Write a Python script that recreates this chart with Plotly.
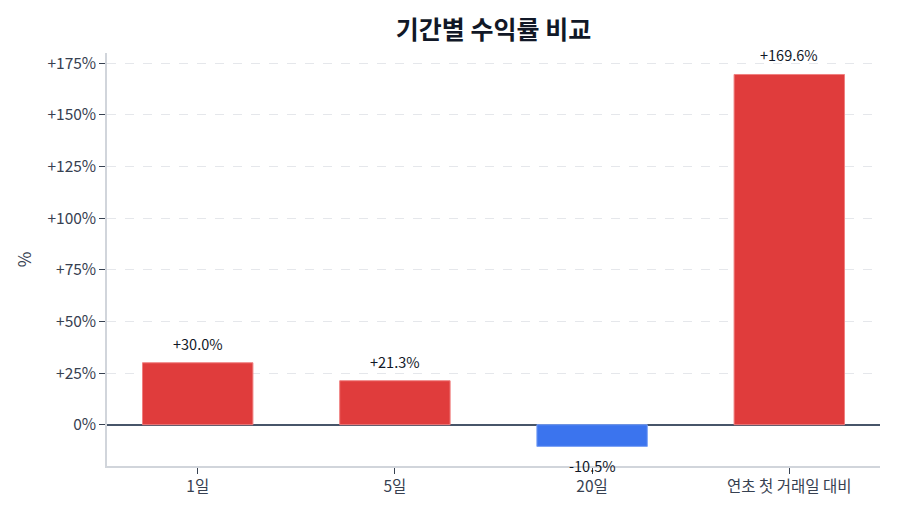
import plotly.graph_objects as go

# 기간별 수익률 (%)
periods = ['1일', '5일', '20일', '연초 첫 거래일 대비']
returns = [30.0, 21.3, -10.5, 169.6]

# y축 눈금
tick_vals = [0, 25, 50, 75, 100, 125, 150, 175]
tick_text = ['0%', '+25%', '+50%', '+75%', '+100%', '+125%', '+150%', '+175%']

FONT = 'Noto Sans CJK KR'
RED = '#e03c3c'
BLUE = '#3b74ee'

colors = [RED if v >= 0 else BLUE for v in returns]
line_colors = ['#f08080' if v >= 0 else '#7aa0f5' for v in returns]

fig = go.Figure(go.Bar(
    x=periods,
    y=returns,
    width=0.56,
    marker=dict(color=colors, line=dict(color=line_colors, width=1)),
    hoverinfo='skip',
))

# 막대 위/아래 값 라벨
for p, v in zip(periods, returns):
    fig.add_annotation(
        x=p, y=v,
        text=f'{v:+.1f}%',
        showarrow=False,
        yanchor='bottom' if v >= 0 else 'top',
        yshift=7 if v >= 0 else -7,
        font=dict(family=FONT, size=14.5, color='#111827'),
    )

# 페이지 기본 여백(8px)을 감안한 margin
fig.update_layout(
    width=900, height=514,
    margin=dict(l=99, r=28, t=45, b=56),
    paper_bgcolor='white',
    plot_bgcolor='white',
    font=dict(family=FONT, size=15, color='#374151'),
    title=dict(
        text='<b>기간별 수익률 비교</b>',
        xref='paper', x=0.5, xanchor='center', y=0.957, yanchor='middle',
        font=dict(family=FONT, size=25, color='#111827'),
    ),
    showlegend=False,
)

fig.update_xaxes(
    automargin=False,
    range=[-0.46, 3.46],
    showline=True, linecolor='#d1d5db', linewidth=1.5,
    ticks='outside', ticklen=6, tickcolor='#374151',
    tickfont=dict(family=FONT, size=15.5, color='#374151'),
    showgrid=False,
)

fig.update_yaxes(
    automargin=False,
    range=[-20, 180],
    tickvals=tick_vals, ticktext=tick_text,
    showline=True, linecolor='#d1d5db', linewidth=1.5,
    ticks='outside', ticklen=6, tickcolor='#374151',
    tickfont=dict(family=FONT, size=15.5, color='#374151'),
    showgrid=True, gridcolor='#e5e7eb', griddash='dash', gridwidth=1,
    zeroline=True, zerolinecolor='#475569', zerolinewidth=2,
    title=dict(text='%', font=dict(family=FONT, size=17, color='#374151'), standoff=12),
)

fig.write_html('out.html')
